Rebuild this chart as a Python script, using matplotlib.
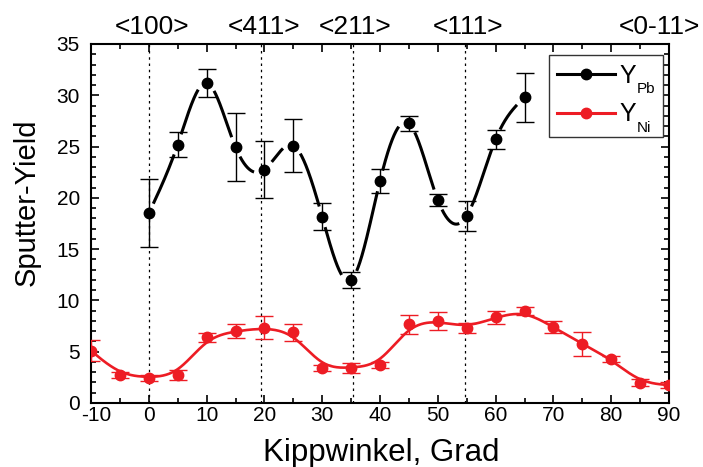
import numpy as np
import matplotlib
matplotlib.use("Agg")
import matplotlib.pyplot as plt
from matplotlib.lines import Line2D
from matplotlib.patches import Rectangle
from matplotlib.ticker import MultipleLocator, FuncFormatter

plt.rcParams["font.family"] = ["Liberation Sans", "DejaVu Sans"]
plt.rcParams["axes.unicode_minus"] = False

# Pb sputter yield vs tilt angle
angle_pb = [0, 5, 10, 15, 20, 25, 30, 35, 40, 45, 50, 55, 60, 65]
yield_pb = [18.5, 25.2, 31.2, 24.95, 22.75, 25.1, 18.15, 12.0, 21.65, 27.25, 19.8, 18.25, 25.7, 29.8]
err_pb = [3.3, 1.25, 1.35, 3.3, 2.75, 2.6, 1.3, 0.75, 1.15, 0.7, 0.55, 1.45, 0.9, 2.4]

# Ni sputter yield vs tilt angle
angle_ni = [-10, -5, 0, 5, 10, 15, 20, 25, 30, 35, 40, 45, 50, 55, 60, 65, 70, 75, 80, 85, 90]
yield_ni = [5.1, 2.75, 2.47, 2.73, 6.4, 7.0, 7.34, 6.89, 3.38, 3.44, 3.7, 7.67, 8.02, 7.34,
            8.35, 9.0, 7.38, 5.78, 4.26, 1.98, 1.75]
err_ni = [1.0, 0.3, 0.3, 0.45, 0.45, 0.7, 1.1, 0.8, 0.3, 0.5, 0.3, 0.95, 0.9, 0.5,
          0.65, 0.4, 0.6, 1.15, 0.3, 0.35, 0.3]

# crystal directions and their tilt angles
dir_labels = ["<100>", "<411>", "<211>", "<111>", "<0-11>"]
dir_angles = [0.0, 19.47, 35.26, 54.74, 90.0]

RED = "#ED1C24"
W, H, DPI = 703, 467, 100
X_MIN, X_MAX = -10, 90


def natural_spline(x, y, xs):
    x = np.asarray(x, float)
    y = np.asarray(y, float)
    n = len(x)
    h = np.diff(x)
    A = np.zeros((n, n))
    rhs = np.zeros(n)
    A[0, 0] = A[-1, -1] = 1.0
    for i in range(1, n - 1):
        A[i, i - 1] = h[i - 1]
        A[i, i] = 2 * (h[i - 1] + h[i])
        A[i, i + 1] = h[i]
        rhs[i] = 6 * ((y[i + 1] - y[i]) / h[i] - (y[i] - y[i - 1]) / h[i - 1])
    M = np.linalg.solve(A, rhs)
    i = np.clip(np.searchsorted(x, xs) - 1, 0, n - 2)
    hi = h[i]
    a = x[i + 1] - xs
    b = xs - x[i]
    return (M[i] * a ** 3 / (6 * hi) + M[i + 1] * b ** 3 / (6 * hi)
            + (y[i] / hi - M[i] * hi / 6) * a + (y[i + 1] / hi - M[i + 1] * hi / 6) * b)


def bspline(x, y, per=40):
    px = np.concatenate([[x[0]] * 2, x, [x[-1]] * 2]).astype(float)
    py = np.concatenate([[y[0]] * 2, y, [y[-1]] * 2]).astype(float)
    t = np.linspace(0, 1, per, endpoint=False)
    b0 = (1 - t) ** 3 / 6
    b1 = (3 * t ** 3 - 6 * t ** 2 + 4) / 6
    b2 = (-3 * t ** 3 + 3 * t ** 2 + 3 * t + 1) / 6
    b3 = t ** 3 / 6
    xs, ys = [], []
    for k in range(len(px) - 3):
        xs.append(b0 * px[k] + b1 * px[k + 1] + b2 * px[k + 2] + b3 * px[k + 3])
        ys.append(b0 * py[k] + b1 * py[k + 1] + b2 * py[k + 2] + b3 * py[k + 3])
    xs.append([px[-1]])
    ys.append([py[-1]])
    return np.concatenate(xs), np.concatenate(ys)


fig = plt.figure(figsize=(W / DPI, H / DPI), dpi=DPI)
ax = fig.add_axes([91 / W, 1 - 403 / H, 578 / W, 359 / H])
ax.set_xlim(X_MIN, X_MAX)
ax.set_ylim(0, 35)

# dotted guides at crystal directions
for a in dir_angles[:-1]:
    ax.axvline(a, color="black", lw=0.9, ls=(0, (2, 3)), zorder=1)

# Pb: interpolating spline broken around each marker
xs = np.linspace(angle_pb[0], angle_pb[-1], 2000)
ys = natural_spline(angle_pb, yield_pb, xs)
px_deg = 578 / 100.0
px_unit = 359 / 35.0
gap = 10.5
mask = np.zeros_like(xs, dtype=bool)
for xa, ya in zip(angle_pb, yield_pb):
    d = np.hypot((xs - xa) * px_deg, (ys - ya) * px_unit)
    mask |= d < gap
ys_gap = np.where(mask, np.nan, ys)
ax.plot(xs, ys_gap, color="black", lw=2.2, zorder=3, solid_capstyle="butt")
ax.errorbar(angle_pb, yield_pb, yerr=err_pb, fmt="o", color="black", ms=7.5,
            elinewidth=1.0, capsize=6.8, capthick=1.0, zorder=4)

# Ni: smoothing B-spline
bx, by = bspline(angle_ni, yield_ni)
ax.plot(bx, by, color=RED, lw=1.9, zorder=3)
ax.errorbar(angle_ni, yield_ni, yerr=err_ni, fmt="o", color=RED, ms=7.5,
            elinewidth=1.0, capsize=6.8, capthick=1.0, zorder=4)

# axes styling
for s in ax.spines.values():
    s.set_linewidth(1.5)
ax.xaxis.set_major_locator(MultipleLocator(10))
ax.xaxis.set_minor_locator(MultipleLocator(5))
ax.yaxis.set_major_locator(MultipleLocator(5))
ax.yaxis.set_minor_locator(MultipleLocator(1))
ax.tick_params(which="both", direction="in", top=True, right=True, width=1.2)
ax.tick_params(which="major", length=6)
ax.tick_params(which="minor", length=3.5)
ax.tick_params(axis="x", labelsize=15, pad=2.5)
ax.tick_params(axis="y", labelsize=15, pad=8)

# the leading "-10" is centred on its digits, so it is drawn separately
ax.xaxis.set_major_formatter(FuncFormatter(lambda v, p: "" if v <= X_MIN else f"{v:g}"))
ax.annotate(f"{X_MIN:g}", xy=(X_MIN, 0), xycoords=("data", "axes fraction"),
            xytext=(4, -2.5), textcoords="offset points", ha="center", va="top",
            fontsize=15, annotation_clip=False)

# direction labels above the frame
for lab, a in zip(dir_labels, dir_angles):
    dx = -7 if a >= 90 else 2
    ax.annotate(lab, xy=(a, 1.0), xycoords=("data", "axes fraction"),
                xytext=(dx, 3.5), textcoords="offset points",
                ha="center", va="bottom", fontsize=19, annotation_clip=False)

fig.text(27 / W, 1 - 202 / H, "Sputter-Yield", rotation=90, ha="center", va="center", fontsize=21)
fig.text(381 / W, 1 - 461 / H, "Kippwinkel, Grad", ha="center", va="baseline", fontsize=22.5)

# legend
ax.add_patch(Rectangle((0.792, 0.741), 0.198, 0.228, transform=ax.transAxes,
                       facecolor="white", edgecolor="#333333", lw=1.0, zorder=5))
for yy, col in [(0.916, "black"), (0.808, RED)]:
    ax.add_line(Line2D([0.806, 0.907], [yy, yy], transform=ax.transAxes, color=col,
                       lw=2.2, zorder=6))
    ax.add_line(Line2D([0.856], [yy], transform=ax.transAxes, color=col, marker="o",
                       ms=7.5, zorder=7))
for yy, sub, sy in [(0.891, "Pb", 0.8635), (0.7855, "Ni", 0.755)]:
    ax.text(0.915, yy, "Y", transform=ax.transAxes, fontsize=18, va="baseline", ha="left", zorder=7)
    ax.text(0.9446, sy, sub, transform=ax.transAxes, fontsize=11, va="baseline", ha="left", zorder=7)

fig.savefig("out.png", dpi=DPI)
